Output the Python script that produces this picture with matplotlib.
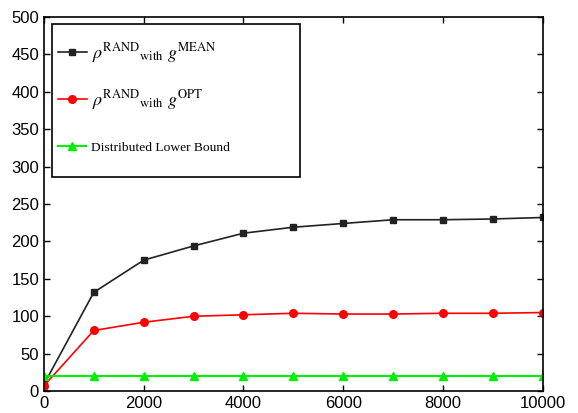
import matplotlib
matplotlib.use('Agg')
import matplotlib.pyplot as plt
from matplotlib.patches import Rectangle

# data
x = [0, 1000, 2000, 3000, 4000, 5000, 6000, 7000, 8000, 9000, 10000]
rand_mean = [9, 132, 175, 194, 211, 219, 224, 229, 229, 230, 232]
rand_opt = [7, 81, 92, 100, 102, 104, 103, 103, 104, 104, 105]
lower_bound = [20, 20, 20, 20, 20, 20, 20, 20, 20, 20, 20]

plt.rcParams['font.family'] = ['Liberation Sans', 'DejaVu Sans']
plt.rcParams['mathtext.fontset'] = 'stix'

fig = plt.figure(figsize=(5.78, 4.13), dpi=100)
ax = fig.add_axes([0.076, 0.053, 0.863, 0.906])

l1, = ax.plot(x, rand_mean, color='#222222', marker='s', markersize=4.5, lw=1.2,
              label=r'$\rho^{\mathrm{RAND}}{}_{\mathrm{with}}\ g^{\mathrm{MEAN}}$')
l2, = ax.plot(x, rand_opt, color='red', marker='o', markersize=5.5, lw=1.2,
              label=r'$\rho^{\mathrm{RAND}}{}_{\mathrm{with}}\ g^{\mathrm{OPT}}$')
l3, = ax.plot(x, lower_bound, color='#00ee00', marker='^', markersize=5.5, lw=1.5,
              label='Distributed Lower Bound')

ax.set_xlim(0, 10000)
ax.set_ylim(0, 500)
ax.set_xticks(range(0, 10001, 2000))
ax.set_yticks(range(0, 501, 50))
ax.tick_params(direction='in', top=True, right=True, labelsize=12, length=4, width=1)
for s in ax.spines.values():
    s.set_linewidth(1.2)

# legend box drawn by hand (matlab style: wide vertical padding)
ax.add_patch(Rectangle((0.016, 0.572), 0.497, 0.409, transform=ax.transAxes,
                       fill=True, facecolor='white', edgecolor='black', lw=1.2, zorder=4))
serif = ['Liberation Serif', 'DejaVu Serif']
leg1 = ax.legend(handles=[l1, l2], loc='center left', bbox_to_anchor=(0.028, 0.842),
                 frameon=False, borderpad=0, borderaxespad=0, labelspacing=1.27,
                 handlelength=1.6, handletextpad=0.28,
                 prop={'family': serif, 'size': 13})
leg1.set_zorder(5)
ax.add_artist(leg1)
leg2 = ax.legend(handles=[l3], loc='center left', bbox_to_anchor=(0.028, 0.650),
                 frameon=False, borderpad=0, borderaxespad=0,
                 handlelength=2.1, handletextpad=0.36,
                 prop={'family': serif, 'size': 9.7})
leg2.set_zorder(5)

fig.savefig('out.png', dpi=100)
